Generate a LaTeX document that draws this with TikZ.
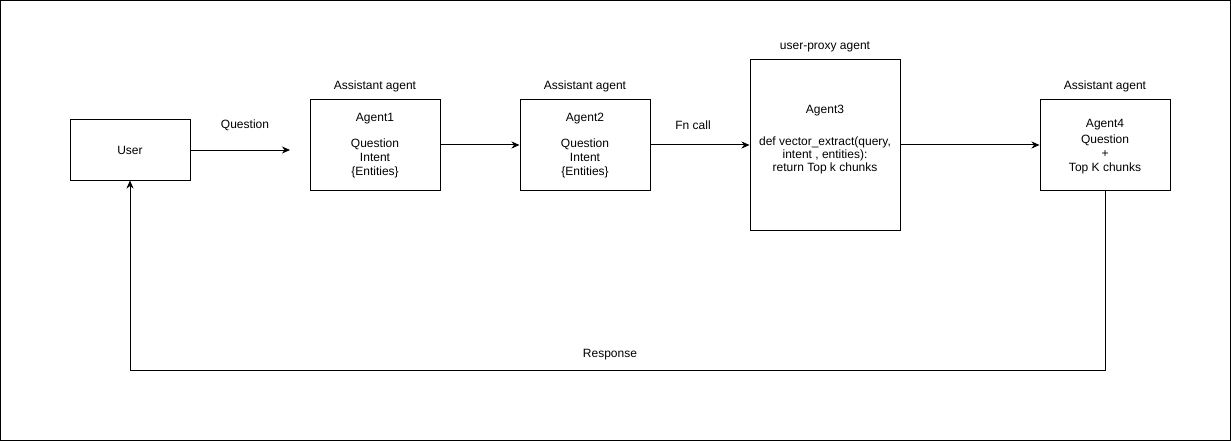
\documentclass[tikz,border=0pt]{standalone}
\usepackage{fontspec}
\setmainfont{Liberation Sans}
\usetikzlibrary{arrows.meta}
\begin{document}
\begin{tikzpicture}[x=1pt,y=-1pt,
  box/.style={draw=black,line width=1pt,inner sep=0pt},
  txt/.style={inner sep=0pt,anchor=base,font=\fontsize{12}{14}\selectfont},
  conn/.style={line width=1pt,-{Stealth[length=8pt,width=7pt,inset=2.5pt]}},
  plain/.style={line width=1pt}]
\useasboundingbox (0,0) rectangle (1231,441);
\draw[plain] (0.5,0.5) rectangle (1230.5,440.5);
% boxes
\node[box,minimum width=120pt,minimum height=60pt] (user) at (130,150) {};
\node[box,minimum width=130pt,minimum height=90pt] (a1) at (375,145) {};
\node[box,minimum width=130pt,minimum height=90pt] (a2) at (585,145) {};
\node[box,minimum width=150pt,minimum height=170pt] (a3) at (825,145) {};
\node[box,minimum width=130pt,minimum height=90pt] (a4) at (1105,145) {};
% box texts
\node[txt] (ut) at (130,154) {User};
\node[txt] (a1l1) at (375,121.5) {Agent1};
\node[txt] (a1l2) at (375,147.5) {Question};
\node[txt] (a1l3) at (375,161.5) {Intent};
\node[txt] (a1l4) at (375,175.5) {\{Entities\}};
\node[txt] (a2l1) at (585,121.5) {Agent2};
\node[txt] (a2l2) at (585,147.5) {Question};
\node[txt] (a2l3) at (585,161.5) {Intent};
\node[txt] (a2l4) at (585,175.5) {\{Entities\}};
\node[txt] (a3l1) at (825,114) {Agent3};
\node[txt] (a3l2) at (825,145.5) {def vector\_extract(query,};
\node[txt] (a3l3) at (825,158.5) {intent , entities):};
\node[txt] (a3l4) at (825,171.5) {return Top k chunks};
\node[txt] (a4l1) at (1105,128) {Agent4};
\node[txt] (a4l2) at (1105,143) {Question};
\node[txt] (a4l3) at (1105,157.5) {+};
\node[txt] (a4l4) at (1105,171.5) {Top K chunks};
% headings
\node[txt] (h1) at (375,90) {Assistant agent};
\node[txt] (h2) at (585,90) {Assistant agent};
\node[txt] (h3) at (825,50) {user-proxy agent};
\node[txt] (h4) at (1105,89.5) {Assistant agent};
% connectors
\coordinate (qend) at (290,150);
\draw[conn] (user.east) -- (qend);
\node[txt] (ql) at (245,128.5) {Question};
\draw[conn] (a1.east) -- (a2.west);
\draw[conn] (a2.east) -- (a3.west);
\node[txt] (fl) at (693,129) {Fn call};
\draw[conn] (a3.east) -- (a4.west);
\coordinate (r1) at (1105,370);
\coordinate (r2) at (130,370);
\draw[conn] (a4.south) -- (r1) -- (r2) -- (user.south);
\node[txt] (rl) at (610,357) {Response};
\end{tikzpicture}
\end{document}
